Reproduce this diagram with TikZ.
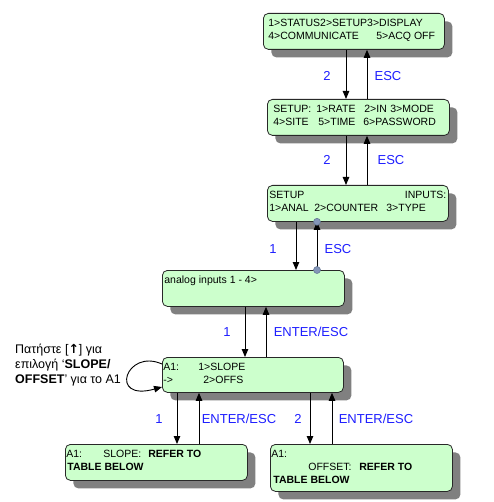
\documentclass[tikz,border=0pt]{standalone}
\usepackage{fontspec}
\setmainfont{Liberation Sans}
\newfontfamily\symfont{DejaVu Sans}
\usetikzlibrary{arrows.meta,shadows}
\definecolor{boxgreen}{RGB}{204,255,204}
\definecolor{boxline}{RGB}{40,40,40}
\definecolor{shadowgray}{RGB}{128,128,128}
\definecolor{lblblue}{RGB}{30,30,255}
\definecolor{dotfill}{RGB}{132,150,184}
\definecolor{dotline}{RGB}{95,114,144}
\newcommand{\tat}[2]{\rlap{\hspace*{#1bp}#2}}
\newcommand{\firstline}{\rule{0pt}{13.3bp}}
\newcommand{\boxtext}[3]{\parbox[c][#2bp][t]{#1bp}{\fontsize{10.5bp}{13bp}\selectfont #3}}
\tikzset{
  screen/.style={draw=boxline, line width=0.8bp, fill=boxgreen, rounded corners=5bp,
    inner sep=0pt, anchor=north west,
    drop shadow={shadow xshift=8bp, shadow yshift=-8bp, fill=shadowgray, opacity=1}},
  arr/.style={draw=black, line width=0.9bp, -{Triangle[length=8bp,width=6.5bp]}},
  keylbl/.style={text=lblblue, font=\fontsize{13bp}{15bp}\selectfont, inner sep=0pt},
  dot/.style={circle, fill=dotfill, draw=dotline, line width=0.5bp, minimum size=7bp, inner sep=0pt}
}
\begin{document}
\begin{tikzpicture}[x=1bp,y=-1bp]
\useasboundingbox (0,0) rectangle (494,502);
\fill[white] (0,0) rectangle (494,502);

% screens
\node[screen] (b1) at (263,13) {\boxtext{181}{36}{%
  \firstline\tat{5}{1>STATUS2>SETUP3>DISPLAY}\par
  \strut\tat{5}{4>COMMUNICATE}\tat{113}{5>ACQ OFF}}};
\node[screen] (b2) at (267,99) {\boxtext{182}{36}{%
  \firstline\tat{6}{SETUP:}\tat{49}{1>RATE}\tat{97}{2>IN}\tat{123}{3>MODE}\par
  \strut\tat{6}{4>SITE}\tat{51}{5>TIME}\tat{96}{6>PASSWORD}}};
\node[screen] (b3) at (267,185) {\boxtext{181}{36}{%
  \firstline\tat{2}{SETUP}\tat{179}{\llap{INPUTS:}}\par
  \strut\tat{2}{1>ANAL}\tat{47}{2>COUNTER}\tat{119}{3>TYPE}}};
\node[screen] (b4) at (162,270) {\boxtext{182}{36}{%
  \firstline\tat{2}{analog inputs 1 - 4>}}};
\node[screen] (b5) at (162,357) {\boxtext{181}{35}{%
  \firstline\tat{1}{A1:}\tat{36}{1>SLOPE}\par
  \strut\tat{1}{->}\tat{41}{2>OFFS}}};
\node[screen] (b6) at (65,444) {\boxtext{182}{36}{%
  \firstline\tat{1}{A1:}\tat{38}{SLOPE:}\tat{83}{\textbf{REFER TO}}\par
  \strut\tat{2}{\textbf{TABLE BELOW}}}};
\node[screen] (b7) at (270,444) {\boxtext{182}{47}{%
  \firstline\tat{1}{A1:}\par
  \strut\tat{38}{OFFSET:}\tat{89}{\textbf{REFER TO}}\par
  \strut\tat{3}{\textbf{TABLE BELOW}}}};

% connectors
\draw[arr] (b1.south -| 346,0) -- (b2.north -| 346,0);
\draw[arr] (b2.north -| 367,0) -- (b1.south -| 367,0);
\draw[arr] (b2.south -| 346,0) -- (b3.north -| 346,0);
\draw[arr] (b3.north -| 367,0) -- (b2.south -| 367,0);
\draw[arr] (b3.south -| 296,0) -- (b4.north -| 296,0);
\draw[arr] (b4.north -| 317,0) -- (b3.south -| 317,0);
\node[dot] (d1) at (b3.south -| 317,0) {};
\node[dot] (d2) at (b4.north -| 317,0) {};
\draw[arr] (b4.south -| 245,0) -- (b5.north -| 245,0);
\draw[arr] (b5.north -| 266,0) -- (b4.south -| 266,0);
\draw[arr] (b5.south -| 177,0) -- (b6.north -| 177,0);
\draw[arr] (b6.north -| 199,0) -- (b5.south -| 199,0);
\draw[arr] (b5.south -| 310,0) -- (b7.north -| 310,0);
\draw[arr] (b7.north -| 332,0) -- (b5.south -| 332,0);

% self loop
\coordinate (ls) at (b5.west |- 0,364);
\coordinate (le) at (b5.west |- 0,387);
\draw[arr] (ls) .. controls (126,348) and (108,402) .. (le);

% key labels
\node[keylbl] (l1a) at (327,76) {2};
\node[keylbl] (l1b) at (388,76) {ESC};
\node[keylbl] (l2a) at (327,160) {2};
\node[keylbl] (l2b) at (391,160) {ESC};
\node[keylbl] (l3a) at (273,249) {1};
\node[keylbl] (l3b) at (338,249) {ESC};
\node[keylbl] (l4a) at (227,332) {1};
\node[keylbl] (l4b) at (311,332) {ENTER/ESC};
\node[keylbl] (l5a) at (159,419) {1};
\node[keylbl] (l5b) at (239,419) {ENTER/ESC};
\node[keylbl] (l6a) at (298,419) {2};
\node[keylbl] (l6b) at (376,419) {ENTER/ESC};

% note
\node[anchor=north west, align=left, inner sep=0pt,
      font=\fontsize{12.5bp}{14.8bp}\selectfont] (note) at (15,344)
  {Πατήστε [{\symfont\bfseries ↑}] για\\ επιλογή ‘\textbf{SLOPE/}\\ \textbf{OFFSET}’ για το A1};
\end{tikzpicture}
\end{document}
